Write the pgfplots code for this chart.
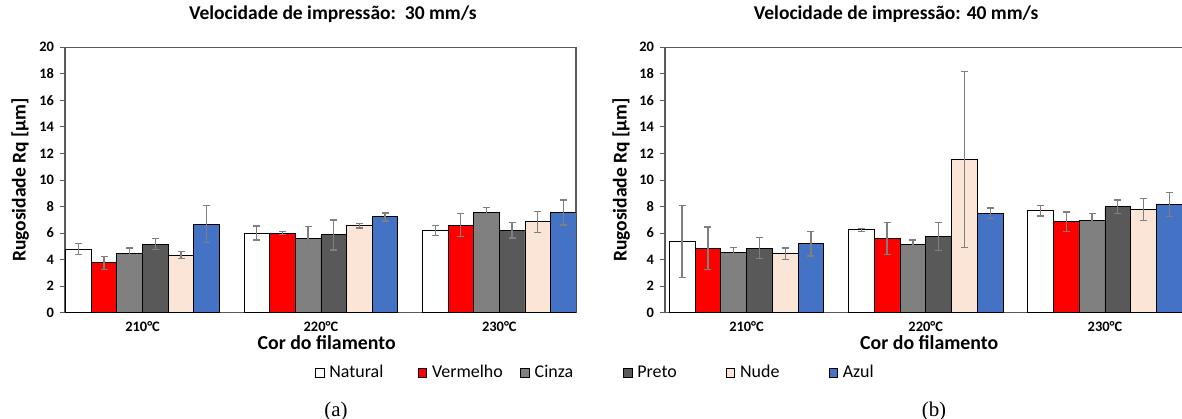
\documentclass[border=0pt]{standalone}
\usepackage{pgfplots}
\pgfplotsset{compat=1.18}
\usepackage{fontspec}
\setmainfont{Carlito}
\newfontfamily\timesfont{Liberation Serif}
\definecolor{cnat}{HTML}{FFFFFF}
\definecolor{cred}{HTML}{FF0000}
\definecolor{cgray}{HTML}{808080}
\definecolor{cdark}{HTML}{595959}
\definecolor{cnude}{HTML}{FBE5D6}
\definecolor{cblue}{HTML}{4472C4}
\definecolor{cerr}{HTML}{7F7F7F}
\definecolor{caxis}{HTML}{595959}
\pgfplotsset{
  rq/.style={
    scale only axis, height=265.4bp,
    ybar=0pt, bar width=0.1438,
    xmin=-0.435, xmax=2.43, ymin=0, ymax=20,
    xtick={0,1,2}, xticklabels={210°C,220°C,230°C},
    ytick={0,2,...,20},
    /pgf/number format/assume math mode=true,
    tick label style={font=\bfseries\fontsize{14.5}{15}\selectfont},
    yticklabel style={xshift=-2.5bp},
    tick align=outside, major tick length=5bp,
    xtick style={draw=none},
    ytick style={caxis, line width=1bp},
    axis line style={caxis, line width=1.1bp},
    legend image code/.code={\draw[##1, line width=0.8bp] (0bp,-4.25bp) rectangle (8.5bp,4.25bp);},
    title style={font=\bfseries\fontsize{19.6}{22}\selectfont, anchor=center},
    xlabel style={font=\bfseries\fontsize{19.9}{22}\selectfont, anchor=center},
    ylabel style={font=\bfseries\fontsize{19.6}{22}\selectfont, anchor=center, rotate=0},
  },
  eb/.style={draw=black, line width=0.9bp,
    error bars/.cd, y dir=both, y explicit,
    error bar style={cerr, line width=1.3bp},
    error mark options={rotate=90, cerr, mark size=3.5bp, line width=1.3bp}},
}
\newcommand{\legtxt}[1]{\makebox[89.4bp][l]{\hspace{3bp}#1}}
\begin{document}
\begin{tikzpicture}
\useasboundingbox (0,0) rectangle (1182bp,-419bp);
% ---------------- (a) 30 mm/s ----------------
\begin{axis}[rq, width=511bp, at={(65bp,-312.7bp)}, anchor=south west,
  ytick pos=left,
  title={Velocidade de impressão:\ \ 30 mm/s},
  title style={at={(axis description cs:0.524,1.103)}},
  xlabel={Cor do filamento},
  xlabel style={at={(axis description cs:0.512,-0.114)}},
  ylabel={Rugosidade Rq [µm]},
  ylabel style={at={(axis description cs:-0.088,0.5)}},
  legend columns=6, legend cell align=left,
  legend style={draw=none, fill=none, inner sep=0pt, anchor=west,
    at={(axis description cs:0.489,-0.227)},
    font=\fontsize{18}{20}\selectfont,
    nodes={text height=12bp, text depth=3bp},
    /tikz/every even column/.append style={column sep=0pt}},
]
\addplot[fill=cnat, eb] coordinates {(0,4.80) +- (0,0.40) (1,6.00) +- (0,0.53) (2,6.20) +- (0,0.38)};
\addlegendentry{\legtxt{Natural}}
\addplot[fill=cred, eb] coordinates {(0,3.75) +- (0,0.50) (1,6.00) +- (0,0.10) (2,6.60) +- (0,0.85)};
\addlegendentry{\legtxt{Vermelho}}
\addplot[fill=cgray, eb] coordinates {(0,4.47) +- (0,0.40) (1,5.62) +- (0,0.87) (2,7.52) +- (0,0.42)};
\addlegendentry{\legtxt{Cinza}}
\addplot[fill=cdark, eb] coordinates {(0,5.17) +- (0,0.43) (1,5.86) +- (0,1.13) (2,6.22) +- (0,0.58)};
\addlegendentry{\legtxt{Preto}}
\addplot[fill=cnude, eb] coordinates {(0,4.33) +- (0,0.27) (1,6.54) +- (0,0.16) (2,6.85) +- (0,0.80)};
\addlegendentry{\legtxt{Nude}}
\addplot[fill=cblue, eb] coordinates {(0,6.68) +- (0,1.38) (1,7.22) +- (0,0.30) (2,7.55) +- (0,0.95)};
\addlegendentry{\legtxt{Azul}}
\end{axis}
% ---------------- (b) 40 mm/s ----------------
\begin{axis}[rq, width=517bp, at={(665bp,-312.7bp)}, anchor=south west,
  xmin=-0.455, xmax=2.43,
  axis x line*=box, axis y line*=left,
  title={Velocidade de impressão: 40 mm/s},
  title style={at={(axis description cs:0.447,1.103)}},
  xlabel={Cor do filamento},
  xlabel style={at={(axis description cs:0.511,-0.114)}},
  ylabel={Rugosidade Rq [µm]},
  ylabel style={at={(axis description cs:-0.085,0.5)}},
]
\addplot[fill=cnat, eb] coordinates {(0,5.37) +- (0,2.72) (1,6.25) +- (0,0.12) (2,7.68) +- (0,0.40)};
\addplot[fill=cred, eb] coordinates {(0,4.86) +- (0,1.60) (1,5.60) +- (0,1.20) (2,6.85) +- (0,0.75)};
\addplot[fill=cgray, eb] coordinates {(0,4.53) +- (0,0.38) (1,5.11) +- (0,0.36) (2,6.98) +- (0,0.50)};
\addplot[fill=cdark, eb] coordinates {(0,4.86) +- (0,0.80) (1,5.75) +- (0,1.05) (2,8.00) +- (0,0.50)};
\addplot[fill=cnude, eb] coordinates {(0,4.45) +- (0,0.42) (1,11.55) +- (0,6.65) (2,7.78) +- (0,0.82)};
\addplot[fill=cblue, eb] coordinates {(0,5.19) +- (0,0.92) (1,7.50) +- (0,0.40) (2,8.16) +- (0,0.90)};
\end{axis}
\node[font=\timesfont\fontsize{21}{23}\selectfont] at (336bp,-411bp) {(a)};
\node[font=\timesfont\fontsize{21}{23}\selectfont] at (934bp,-411bp) {(b)};
\end{tikzpicture}
\end{document}
